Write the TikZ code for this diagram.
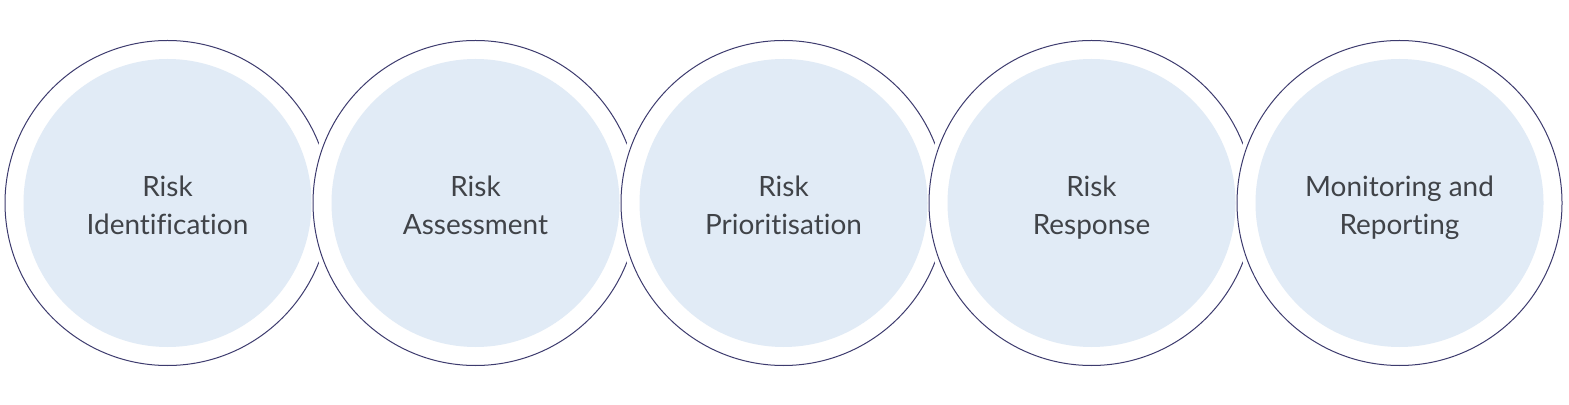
\documentclass[tikz,border=0pt]{standalone}
\usepackage{fontspec}
\setmainfont{Lato}[Ligatures=NoCommon]
\usetikzlibrary{positioning}

\definecolor{ringnavy}{HTML}{3D3B6E}
\definecolor{discblue}{HTML}{E1EBF6}
\definecolor{labelgrey}{HTML}{404348}

\tikzset{
    ring/.style={circle, draw=ringnavy, line width=0.02cm, fill=white,
        preaction={draw=white, line width=0.2cm},
        minimum size=6.5cm, inner sep=0pt, outer sep=0pt},
    disc/.style={circle, fill=discblue, minimum size=5.76cm, inner sep=0pt},
    steplabel/.style={align=center, text=labelgrey, text depth=0.2cm,
        yshift=-0.14cm, font=\fontsize{15.9}{21.5}\selectfont},
}

\begin{document}
\begin{tikzpicture}
            \useasboundingbox (0,0) rectangle (31.38,8.08);

            \node [ring] (ident) at (3.35,4.02) {};
            \node [ring, right=-0.34cm of ident] (assess) {};
            \node [ring, right=-0.34cm of assess] (prior) {};
            \node [ring, right=-0.34cm of prior] (resp) {};
            \node [ring, right=-0.34cm of resp] (monitor) {};

            \node [disc] (identdisc) at (ident) {};
            \node [disc] (assessdisc) at (assess) {};
            \node [disc] (priordisc) at (prior) {};
            \node [disc] (respdisc) at (resp) {};
            \node [disc] (monitordisc) at (monitor) {};

            \node [steplabel] (identtext) at (identdisc) {Risk\\Identification};
            \node [steplabel] (assesstext) at (assessdisc) {Risk\\Assessment};
            \node [steplabel] (priortext) at (priordisc) {Risk\\Prioritisation};
            \node [steplabel] (resptext) at (respdisc) {Risk\\Response};
            \node [steplabel] (monitortext) at (monitordisc) {Monitoring and\\Reporting};
        \end{tikzpicture}
\end{document}
